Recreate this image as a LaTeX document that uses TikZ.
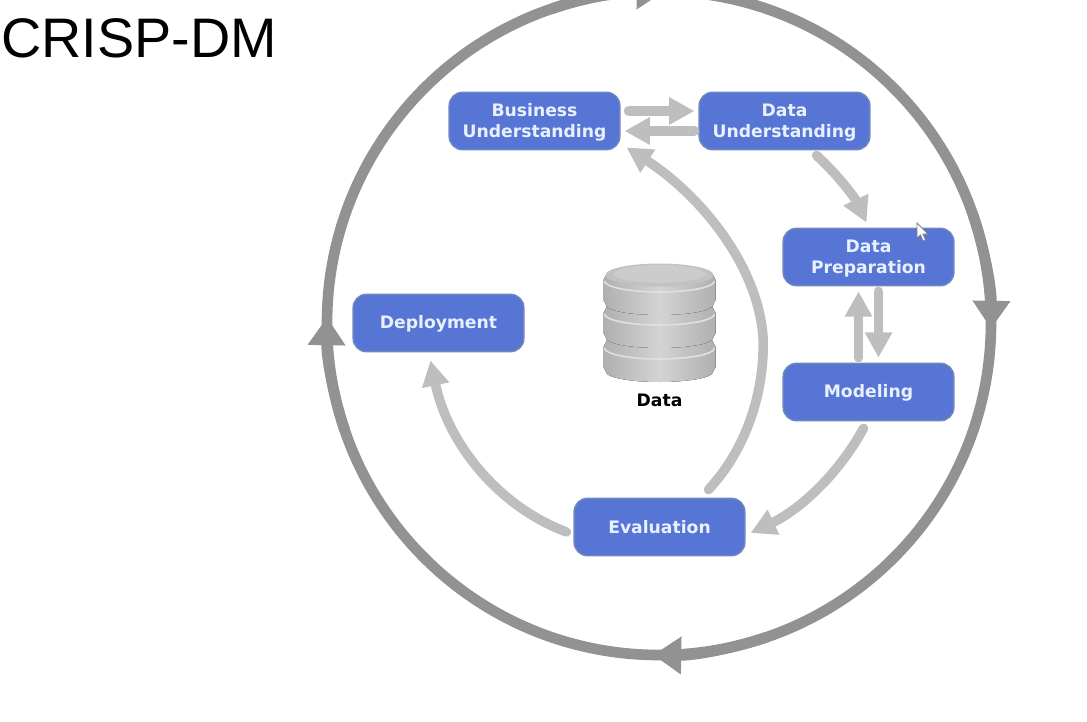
\documentclass[tikz,border=0pt]{standalone}
\usepackage{fontspec}
\usepackage{xcolor}
\usetikzlibrary{arrows.meta}
\setmainfont{DejaVu Sans}
\newfontfamily\titlefont{Liberation Sans}
\definecolor{stepblue}{RGB}{86, 117, 212}
\definecolor{stepedge}{RGB}{112, 134, 190}
\definecolor{steptext}{RGB}{232, 241, 255}
\definecolor{flowgray}{RGB}{190, 190, 190}
\definecolor{ringgray}{RGB}{146, 146, 146}
\newcommand{\steplift}{\rule{0pt}{11.6pt}}
\tikzset{
  stepbox/.style={draw=stepedge,line width=1.1pt,fill=stepblue,rounded corners=10pt,minimum width=128pt,minimum height=43pt,inner sep=0pt,align=center,text=steptext,font=\fontsize{12.9}{15.6}\selectfont\bfseries},
  flowarrow/.style={draw=flowgray,line width=7.2pt,line cap=round,-{Triangle[length=19pt,width=19.5pt]}},
  ringarrow/.style={draw=ringgray,line width=8pt},
}
\begin{document}
\begin{tikzpicture}[x=0.75pt,y=0.75pt,yscale=-1,xscale=1]
\useasboundingbox (0,0) rectangle (1087,721);

%Outer ring
\coordinate (ringcentre) at (659,323);
\draw [ringarrow] (ringcentre) circle [radius=332];
\foreach \ringangle in {1,91,181,271} {
  \draw [ringarrow,-{Triangle[length=21pt,width=27pt]}] (ringcentre) ++(\ringangle-20:332) arc [start angle=\ringangle-20,end angle=\ringangle,radius=332];
}

%Steps
\draw (534.5,121) node [stepbox] (business) {\steplift Business\\Understanding};
\draw (784.5,121) node [stepbox] (dataund) {\steplift Data\\Understanding};
\draw (868.5,257) node [stepbox] (dataprep) {\steplift Data\\Preparation};
\draw (868.5,392) node [stepbox] (modeling) {\steplift Modeling};
\draw (659.5,527) node [stepbox] (evaluation) {Evaluation};
\draw (438.5,323) node [stepbox] (deployment) {\steplift Deployment};

%Flow arrows
\draw [flowarrow] ([shift={(8,-10)}]business.east) -- ([shift={(-4,-10)}]dataund.west);
\draw [flowarrow] ([shift={(-4,10)}]dataund.west) -- ([shift={(4,10)}]business.east);
\draw [flowarrow] ([shift={(32,5)}]dataund.south) .. controls (838,175) and (855,198) .. ([shift={(-2,-5)}]dataprep.north);
\draw [flowarrow] ([shift={(-10,-5)}]modeling.north) -- ([shift={(-10,5)}]dataprep.south);
\draw [flowarrow] ([shift={(10,5)}]dataprep.south) -- ([shift={(10,-5)}]modeling.north);
\draw [flowarrow] ([shift={(-5,7)}]modeling.south) .. controls (835,480) and (795,512) .. ([shift={(5,6)}]evaluation.east);
\draw [flowarrow] ([shift={(-7,5)}]evaluation.west) .. controls (495,505) and (447,440) .. ([shift={(-8,8)}]deployment.south);
\draw [flowarrow] ([shift={(49,-8)}]evaluation.north) .. controls (750,445) and (765,385) .. (763,337) .. controls (758,265) and (700,195) .. ([shift={(6,-3)}]business.south east);

%Database stack
\foreach \layery in {342,308,275} {
  \fill [left color=black!31,right color=black!31,middle color=black!17] (606,\layery) -- (603.5,\layery+5) -- ++(0,20) -- (606,\layery+30) arc [start angle=180,end angle=0,x radius=53.5,y radius=10] -- (715.5,\layery+25) -- ++(0,-20) -- (713,\layery) arc [start angle=0,end angle=-180,x radius=53.5,y radius=10] -- cycle;
  \draw [white!88!black,line width=1.2pt] (604.5,\layery+6) arc [start angle=180,end angle=0,x radius=55,y radius=11];
}
\fill [black!24] (659.5,275) ellipse [x radius=54,y radius=11.5];
\fill [black!20] (659.5,274) ellipse [x radius=46,y radius=9];

\draw (659.5,400) node [text=black,font=\fontsize{12.9}{15}\selectfont\bfseries] (datalabel) {Data};
\draw (1,38) node [anchor=west,inner sep=0pt,font=\fontsize{41.8}{45}\selectfont\titlefont] (title) {CRISP-DM};

%Cursor
\draw [fill=white,draw=black!50,line width=0.6pt] (917,223) -- (917,238) -- (920.5,235) -- (923,241) -- (925.5,240) -- (923,234) -- (928,234) -- cycle;

\end{tikzpicture}
\end{document}
